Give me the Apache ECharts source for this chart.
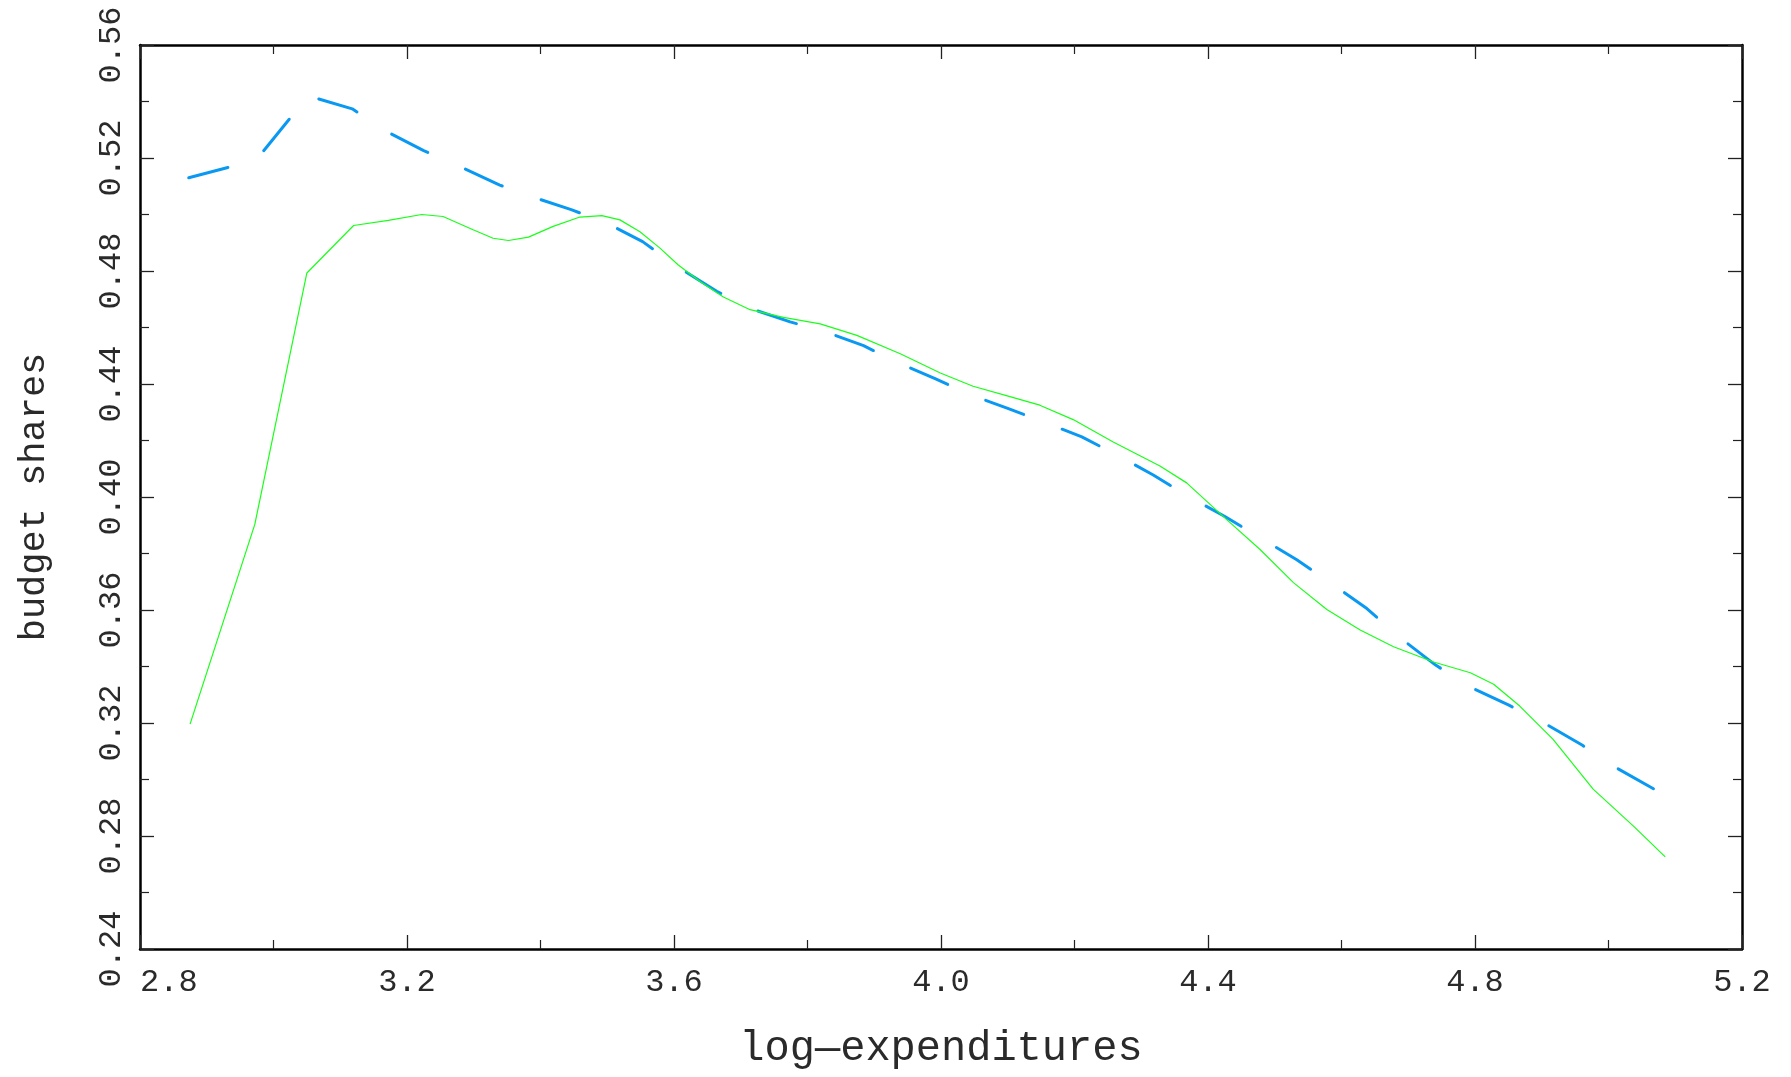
<!DOCTYPE html>
<html><head><meta charset="utf-8">
<script src="https://cdn.jsdelivr.net/npm/echarts@6/dist/echarts.min.js"></script>
<style>html,body{margin:0;padding:0;background:#fff}#c{width:1791px;height:1077px}</style>
</head><body><div id="c"></div>
<script>
// Blue dashed curve (x = log-expenditures, y = budget share)
const blueX = [2.873, 2.974, 3.052, 3.118, 3.170, 3.225, 3.277, 3.339, 3.391, 3.446, 3.498, 3.553, 3.608, 3.664, 3.716, 3.774, 3.825, 3.884, 3.931, 3.992, 4.045, 4.100, 4.153, 4.211, 4.264, 4.318, 4.370, 4.426, 4.479, 4.533, 4.585, 4.638, 4.688, 4.741, 4.795, 4.850, 4.905, 4.961, 5.012, 5.069];
const blueY = [0.5130, 0.5193, 0.5420, 0.5374, 0.5293, 0.5226, 0.5172, 0.5104, 0.5060, 0.5017, 0.4971, 0.4904, 0.4811, 0.4728, 0.4666, 0.4620, 0.4586, 0.4536, 0.4480, 0.4418, 0.4361, 0.4314, 0.4266, 0.4213, 0.4148, 0.4078, 0.4003, 0.3930, 0.3854, 0.3778, 0.3694, 0.3605, 0.3501, 0.3405, 0.3325, 0.3264, 0.3198, 0.3121, 0.3041, 0.2965];
// Green solid curve
const greenX = [2.875, 2.972, 3.050, 3.120, 3.172, 3.222, 3.254, 3.299, 3.329, 3.352, 3.382, 3.419, 3.459, 3.492, 3.519, 3.549, 3.579, 3.606, 3.639, 3.674, 3.714, 3.764, 3.819, 3.874, 3.939, 3.999, 4.048, 4.098, 4.148, 4.198, 4.258, 4.328, 4.368, 4.428, 4.478, 4.528, 4.578, 4.628, 4.678, 4.738, 4.793, 4.828, 4.867, 4.917, 4.977, 5.037, 5.085];
const greenY = [0.3196, 0.3903, 0.4793, 0.4961, 0.4979, 0.5000, 0.4993, 0.4946, 0.4916, 0.4908, 0.4920, 0.4958, 0.4991, 0.4996, 0.4981, 0.4939, 0.4881, 0.4822, 0.4763, 0.4708, 0.4663, 0.4636, 0.4613, 0.4572, 0.4507, 0.4439, 0.4392, 0.4359, 0.4325, 0.4274, 0.4195, 0.4110, 0.4050, 0.3920, 0.3814, 0.3697, 0.3602, 0.3529, 0.3470, 0.3416, 0.3378, 0.3337, 0.3260, 0.3142, 0.2966, 0.2836, 0.2726];
// Axis ranges / tick steps
const xRange = [2.8, 5.2];
const xStep = 0.4;
const yRange = [0.24, 0.56];
const yStep = 0.04;
const xTitle = 'log\u2014expenditures';
const yTitle = 'budget shares';

const FONT = '"Liberation Mono", "DejaVu Sans Mono", monospace';
const chart = echarts.init(document.getElementById('c'), null, {renderer: 'canvas'});

const lineCommon = {show: true, onZero: false, lineStyle: {color: '#000', width: 2.5}};
const tickCommon = {show: true, inside: true, length: 14, lineStyle: {color: '#222', width: 1.3}};
const minorCommon = {show: true, splitNumber: 2, length: 9, lineStyle: {color: '#222', width: 1.2}};

chart.setOption({
  animation: false,
  backgroundColor: '#fff',
  grid: {left: 140, right: 49, top: 45, bottom: 128, containLabel: false},
  xAxis: [{
    type: 'value', min: xRange[0], max: xRange[1], interval: xStep, position: 'bottom',
    axisLine: lineCommon, axisTick: tickCommon, minorTick: minorCommon,
    splitLine: {show: false}, minorSplitLine: {show: false},
    axisLabel: {show: true, margin: 18, fontFamily: FONT, fontSize: 32, color: '#2a2a2a',
      alignMinLabel: 'left', formatter: v => v.toFixed(1)},
    name: xTitle, nameLocation: 'middle', nameGap: 79,
    nameTextStyle: {fontFamily: FONT, fontSize: 42, color: '#2a2a2a'}
  }, {
    type: 'value', min: xRange[0], max: xRange[1], interval: xStep, position: 'top',
    axisLine: lineCommon, axisTick: tickCommon, minorTick: minorCommon,
    splitLine: {show: false}, axisLabel: {show: false}
  }],
  yAxis: [{
    type: 'value', min: yRange[0], max: yRange[1], interval: yStep, position: 'left',
    axisLine: lineCommon, axisTick: tickCommon, minorTick: minorCommon,
    splitLine: {show: false}, minorSplitLine: {show: false},
    axisLabel: {show: true, rotate: 90, margin: 12, fontFamily: FONT, fontSize: 32, color: '#2a2a2a',
      formatter: v => v.toFixed(2)},
    name: yTitle, nameLocation: 'middle', nameGap: 87,
    nameTextStyle: {fontFamily: FONT, fontSize: 37, color: '#2a2a2a'}
  }, {
    type: 'value', min: yRange[0], max: yRange[1], interval: yStep, position: 'right',
    axisLine: lineCommon, axisTick: tickCommon, minorTick: minorCommon,
    splitLine: {show: false}, axisLabel: {show: false}
  }],
  series: [{
    type: 'line', xAxisIndex: 0, yAxisIndex: 0, showSymbol: false, symbol: 'none',
    data: blueX.map((x, i) => [x, blueY[i]]),
    lineStyle: {color: '#0a99f2', width: 3, type: [40.5, 41.2], cap: 'round'},
    z: 3
  }, {
    type: 'line', xAxisIndex: 0, yAxisIndex: 0, showSymbol: false, symbol: 'none',
    data: greenX.map((x, i) => [x, greenY[i]]),
    lineStyle: {color: '#1aff1a', width: 1.2},
    z: 4
  }]
});
</script></body></html>
